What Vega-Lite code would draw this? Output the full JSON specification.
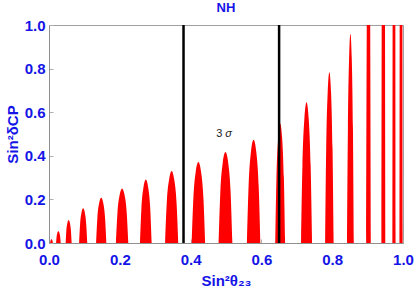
{
  "$schema": "https://vega.github.io/schema/vega-lite/v6.json",
  "autosize": {"type": "none"},
  "width": 354,
  "height": 218,
  "padding": {"left": 49, "top": 25, "right": 12, "bottom": 47},
  "background": "white",
  "title": {"text": "NH", "fontSize": 13, "fontWeight": "bold", "color": "#1414e6", "font": "Liberation Sans", "offset": 3, "anchor": "middle"},
  "config": {
    "view": {"stroke": "#a0a0a0", "strokeWidth": 1},
    "axis": {
      "labelFont": "Liberation Sans", "labelFontSize": 15, "labelFontWeight": "bold", "labelColor": "#1414e6",
      "titleFont": "Liberation Sans", "titleFontSize": 15, "titleFontWeight": "bold", "titleColor": "#1414e6",
      "domainColor": "#909090", "tickColor": "#b0b0b0", "tickSize": -4, "grid": false, "labelFlush": false
    }
  },
  "datasets": {
    "lobes": [
      {"lobe":1,"x":0.003,"y":0},{"lobe":1,"x":0.004,"y":0.0094},{"lobe":1,"x":0.0054,"y":0.015},{"lobe":1,"x":0.007,"y":0.017},{"lobe":1,"x":0.0086,"y":0.015},{"lobe":1,"x":0.010,"y":0.0094},{"lobe":1,"x":0.011,"y":0},
      {"lobe":2,"x":0.020,"y":0},{"lobe":2,"x":0.0216,"y":0.030},{"lobe":2,"x":0.0239,"y":0.048},{"lobe":2,"x":0.0265,"y":0.055},{"lobe":2,"x":0.0291,"y":0.048},{"lobe":2,"x":0.0314,"y":0.030},{"lobe":2,"x":0.033,"y":0},
      {"lobe":3,"x":0.047,"y":0},{"lobe":3,"x":0.0491,"y":0.058},{"lobe":3,"x":0.0521,"y":0.093},{"lobe":3,"x":0.0555,"y":0.106},{"lobe":3,"x":0.0589,"y":0.093},{"lobe":3,"x":0.0619,"y":0.058},{"lobe":3,"x":0.064,"y":0},
      {"lobe":4,"x":0.085,"y":0},{"lobe":4,"x":0.0879,"y":0.087},{"lobe":4,"x":0.0919,"y":0.140},{"lobe":4,"x":0.0965,"y":0.159},{"lobe":4,"x":0.1011,"y":0.140},{"lobe":4,"x":0.1051,"y":0.087},{"lobe":4,"x":0.108,"y":0},
      {"lobe":5,"x":0.133,"y":0},{"lobe":5,"x":0.1366,"y":0.114},{"lobe":5,"x":0.1417,"y":0.183},{"lobe":5,"x":0.1475,"y":0.208},{"lobe":5,"x":0.1533,"y":0.183},{"lobe":5,"x":0.1584,"y":0.114},{"lobe":5,"x":0.162,"y":0},
      {"lobe":6,"x":0.189,"y":0},{"lobe":6,"x":0.1934,"y":0.138},{"lobe":6,"x":0.1995,"y":0.220},{"lobe":6,"x":0.2065,"y":0.250},{"lobe":6,"x":0.2135,"y":0.220},{"lobe":6,"x":0.2196,"y":0.138},{"lobe":6,"x":0.224,"y":0},
      {"lobe":7,"x":0.257,"y":0},{"lobe":7,"x":0.2611,"y":0.160},{"lobe":7,"x":0.2669,"y":0.256},{"lobe":7,"x":0.2735,"y":0.291},{"lobe":7,"x":0.2801,"y":0.256},{"lobe":7,"x":0.2859,"y":0.160},{"lobe":7,"x":0.290,"y":0},
      {"lobe":8,"x":0.328,"y":0},{"lobe":8,"x":0.3326,"y":0.182},{"lobe":8,"x":0.3391,"y":0.290},{"lobe":8,"x":0.3465,"y":0.330},{"lobe":8,"x":0.3539,"y":0.290},{"lobe":8,"x":0.3604,"y":0.182},{"lobe":8,"x":0.365,"y":0},
      {"lobe":9,"x":0.403,"y":0},{"lobe":9,"x":0.4078,"y":0.204},{"lobe":9,"x":0.4144,"y":0.326},{"lobe":9,"x":0.422,"y":0.371},{"lobe":9,"x":0.4296,"y":0.326},{"lobe":9,"x":0.4363,"y":0.204},{"lobe":9,"x":0.441,"y":0},
      {"lobe":10,"x":0.479,"y":0},{"lobe":10,"x":0.4839,"y":0.229},{"lobe":10,"x":0.4907,"y":0.367},{"lobe":10,"x":0.4985,"y":0.417},{"lobe":10,"x":0.5063,"y":0.367},{"lobe":10,"x":0.5131,"y":0.229},{"lobe":10,"x":0.518,"y":0},
      {"lobe":11,"x":0.559,"y":0},{"lobe":11,"x":0.5638,"y":0.261},{"lobe":11,"x":0.5704,"y":0.417},{"lobe":11,"x":0.578,"y":0.474},{"lobe":11,"x":0.5856,"y":0.417},{"lobe":11,"x":0.5923,"y":0.261},{"lobe":11,"x":0.597,"y":0},
      {"lobe":12,"x":0.639,"y":0},{"lobe":12,"x":0.6425,"y":0.301},{"lobe":12,"x":0.6474,"y":0.482},{"lobe":12,"x":0.653,"y":0.548},{"lobe":12,"x":0.6586,"y":0.482},{"lobe":12,"x":0.6635,"y":0.301},{"lobe":12,"x":0.667,"y":0},
      {"lobe":13,"x":0.712,"y":0},{"lobe":13,"x":0.7159,"y":0.355},{"lobe":13,"x":0.7213,"y":0.568},{"lobe":13,"x":0.7275,"y":0.646},{"lobe":13,"x":0.7337,"y":0.568},{"lobe":13,"x":0.7391,"y":0.355},{"lobe":13,"x":0.743,"y":0},
      {"lobe":14,"x":0.780,"y":0},{"lobe":14,"x":0.783,"y":0.431},{"lobe":14,"x":0.7872,"y":0.689},{"lobe":14,"x":0.792,"y":0.783},{"lobe":14,"x":0.7968,"y":0.689},{"lobe":14,"x":0.801,"y":0.431},{"lobe":14,"x":0.804,"y":0},
      {"lobe":15,"x":0.842,"y":0},{"lobe":15,"x":0.8444,"y":0.528},{"lobe":15,"x":0.8477,"y":0.845},{"lobe":15,"x":0.8515,"y":0.960},{"lobe":15,"x":0.8553,"y":0.845},{"lobe":15,"x":0.8586,"y":0.528},{"lobe":15,"x":0.861,"y":0},
      {"lobe":16,"x":0.896,"y":0},{"lobe":16,"x":0.8976,"y":0.99},{"lobe":16,"x":0.8999,"y":1.584},{"lobe":16,"x":0.9025,"y":1.8},{"lobe":16,"x":0.9051,"y":1.584},{"lobe":16,"x":0.9074,"y":0.99},{"lobe":16,"x":0.909,"y":0},
      {"lobe":17,"x":0.939,"y":0},{"lobe":17,"x":0.9404,"y":1.65},{"lobe":17,"x":0.9423,"y":2.64},{"lobe":17,"x":0.9445,"y":3},{"lobe":17,"x":0.9467,"y":2.64},{"lobe":17,"x":0.9486,"y":1.65},{"lobe":17,"x":0.950,"y":0},
      {"lobe":18,"x":0.970,"y":0},{"lobe":18,"x":0.9711,"y":1.65},{"lobe":18,"x":0.9727,"y":2.64},{"lobe":18,"x":0.9745,"y":3},{"lobe":18,"x":0.9763,"y":2.64},{"lobe":18,"x":0.9779,"y":1.65},{"lobe":18,"x":0.979,"y":0},
      {"lobe":19,"x":0.990,"y":0},{"lobe":19,"x":0.9911,"y":1.65},{"lobe":19,"x":0.9927,"y":2.64},{"lobe":19,"x":0.9945,"y":3},{"lobe":19,"x":0.9963,"y":2.64},{"lobe":19,"x":0.9979,"y":1.65},{"lobe":19,"x":0.999,"y":0}
    ],
    "bounds": [{"x": 0.380}, {"x": 0.650}],
    "num": [{"x": 0.481, "y": 0.498, "label": "3"}],
    "sym": [{"x": 0.507, "y": 0.498, "label": "σ"}]
  },
  "layer": [
    {
      "data": {"name": "lobes"},
      "mark": {"type": "area", "color": "#ff0000", "interpolate": "monotone", "clip": true},
      "encoding": {
        "x": {"field": "x", "type": "quantitative", "scale": {"domain": [0, 1], "nice": false}, "axis": {"title": "Sin²θ₂₃", "values": [0, 0.2, 0.4, 0.6, 0.8, 1.0], "format": ".1f", "labelPadding": 13, "titlePadding": 6}},
        "y": {"field": "y", "type": "quantitative", "stack": null, "scale": {"domain": [0, 1], "nice": false, "zero": true}, "axis": {"title": "Sin²δCP", "values": [0, 0.2, 0.4, 0.6, 0.8, 1.0], "format": ".1f", "labelPadding": 8, "titlePadding": 4}},
        "detail": {"field": "lobe", "type": "nominal"}
      }
    },
    {
      "data": {"name": "bounds"},
      "mark": {"type": "rule", "color": "black", "strokeWidth": 2.5},
      "encoding": {"x": {"field": "x", "type": "quantitative"}}
    },
    {
      "data": {"name": "num"},
      "mark": {"type": "text", "font": "Liberation Sans", "fontSize": 11, "color": "#222222"},
      "encoding": {
        "x": {"field": "x", "type": "quantitative"},
        "y": {"field": "y", "type": "quantitative"},
        "text": {"field": "label"}
      }
    },
    {
      "data": {"name": "sym"},
      "mark": {"type": "text", "font": "Liberation Sans", "fontSize": 11, "fontStyle": "italic", "color": "#222222"},
      "encoding": {
        "x": {"field": "x", "type": "quantitative"},
        "y": {"field": "y", "type": "quantitative"},
        "text": {"field": "label"}
      }
    }
  ]
}
